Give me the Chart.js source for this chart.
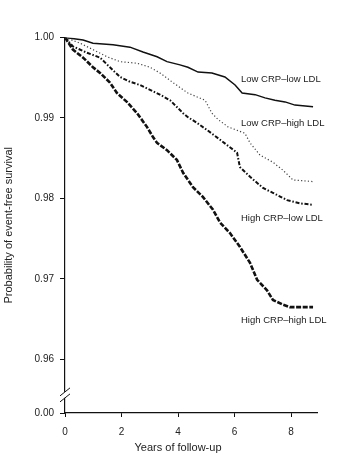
<!DOCTYPE html>
<html>
<head>
<meta charset="utf-8">
<script src="https://cdn.jsdelivr.net/npm/chart.js@4"></script>
<style>
  html, body { margin: 0; padding: 0; background: #fff; }
  #wrap { width: 349px; height: 464px; }
</style>
</head>
<body>
<div id="wrap"><canvas id="c" width="349" height="464"></canvas></div>
<script>
// ---- data ----
const seriesNames = ['Low CRP\u2013low LDL', 'Low CRP\u2013high LDL', 'High CRP\u2013low LDL', 'High CRP\u2013high LDL'];

const lowLowYears = [0, 0.64, 0.99, 1.70, 2.30, 2.76, 3.26, 3.61, 4.07, 4.35, 4.71, 5.20, 5.66, 6.02, 6.27, 6.73, 7.08, 7.43, 7.79, 8.14, 8.78];
const lowLowSurv  = [1.0, 0.9997, 0.9993, 0.9991, 0.9988, 0.9982, 0.9976, 0.9970, 0.9966, 0.9963, 0.9957, 0.9956, 0.9951, 0.9941, 0.9931, 0.9929, 0.9925, 0.9922, 0.9920, 0.9916, 0.9914];

const lowHighYears = [0, 0.53, 0.99, 1.49, 1.95, 2.55, 3.01, 3.36, 3.82, 4.35, 4.96, 5.20, 5.42, 5.77, 6.37, 6.55, 6.90, 7.36, 7.72, 8.07, 8.78];
const lowHighSurv  = [1.0, 0.9993, 0.9985, 0.9976, 0.9970, 0.9968, 0.9963, 0.9956, 0.9944, 0.9931, 0.9922, 0.9906, 0.9898, 0.9889, 0.9881, 0.9869, 0.9854, 0.9845, 0.9835, 0.9823, 0.9821];

const highLowYears = [0, 0.28, 0.78, 1.24, 1.59, 1.95, 2.30, 2.65, 3.01, 3.36, 3.72, 4.18, 4.35, 4.67, 5.03, 5.49, 6.09, 6.19, 6.55, 7.01, 7.36, 7.86, 8.32, 8.78];
const highLowSurv  = [1.0, 0.9989, 0.9981, 0.9975, 0.9963, 0.9951, 0.9945, 0.9941, 0.9935, 0.9929, 0.9922, 0.9906, 0.9901, 0.9894, 0.9885, 0.9873, 0.9857, 0.9839, 0.9827, 0.9813, 0.9807, 0.9798, 0.9794, 0.9792];

const highHighYears = [0, 0.28, 0.64, 0.99, 1.24, 1.59, 1.84, 2.19, 2.55, 2.90, 3.12, 3.26, 3.61, 3.96, 4.18, 4.53, 4.88, 5.24, 5.49, 5.84, 6.19, 6.55, 6.80, 7.15, 7.36, 7.72, 7.96, 8.78];
const highHighSurv  = [1.0, 0.9985, 0.9975, 0.9963, 0.9956, 0.9944, 0.9931, 0.9920, 0.9906, 0.9889, 0.9876, 0.9869, 0.9860, 0.9848, 0.9832, 0.9814, 0.9802, 0.9786, 0.9770, 0.9757, 0.9740, 0.9720, 0.9699, 0.9686, 0.9674, 0.9668, 0.9665, 0.9665];

const xTickValues = [0, 2, 4, 6, 8];
const yTickValues = [0.96, 0.97, 0.98, 0.99, 1.00];
const yBreakLabel = '0.00';
const xTitle = 'Years of follow-up';
const yTitle = 'Probability of event-free survival';

// ---- layout / style (not data) ----
const Y_MIN = 0.95335, Y_MAX = 1.0, X_MIN = 0, X_MAX = 8.92;
const BREAK_VALUE = 0.9556;
const labelX = 6.23;
const labelYs = [0.99485, 0.98938, 0.97758, 0.96491];
const TXT = '#222';
const FONT = '"Liberation Sans", Arial, Helvetica, sans-serif';

function pts(xs, ys) { return xs.map((x, i) => ({ x: x, y: ys[i] })); }

const styles = [
  { borderColor: '#111', borderWidth: 1.5, borderDash: [] },
  { borderColor: '#444', borderWidth: 1.2, borderDash: [1.2, 2.2] },
  { borderColor: '#111', borderWidth: 2.0, borderDash: [4, 1.8, 1.5, 1.8] },
  { borderColor: '#111', borderWidth: 2.6, borderDash: [5, 1.6] }
];
const seriesData = [
  pts(lowLowYears, lowLowSurv),
  pts(lowHighYears, lowHighSurv),
  pts(highLowYears, highLowSurv),
  pts(highHighYears, highHighSurv)
];

const decorPlugin = {
  id: 'decor',
  afterDraw(chart) {
    const ctx = chart.ctx;
    const xs = chart.scales.x, ys = chart.scales.y;
    ctx.save();
    ctx.fillStyle = TXT;
    ctx.font = '9.5px ' + FONT;
    ctx.textBaseline = 'middle';
    ctx.textAlign = 'left';
    seriesNames.forEach((n, i) => {
      ctx.fillText(n, xs.getPixelForValue(labelX), ys.getPixelForValue(labelYs[i]));
    });
    ctx.font = '11px ' + FONT;
    ctx.textAlign = 'center';
    ctx.fillText(xTitle, xs.getPixelForValue(4), 448);
    const ax = xs.getPixelForValue(0);
    const by = ys.getPixelForValue(BREAK_VALUE);
    ctx.fillStyle = '#fff';
    ctx.fillRect(ax - 1.5, by - 3, 3, 6);
    ctx.strokeStyle = '#111';
    ctx.lineWidth = 1;
    ctx.beginPath();
    ctx.moveTo(ax - 5, by + 1); ctx.lineTo(ax + 5, by - 7);
    ctx.moveTo(ax - 5, by + 7); ctx.lineTo(ax + 5, by - 1);
    ctx.stroke();
    ctx.restore();
  }
};

new Chart(document.getElementById('c'), {
  type: 'line',
  data: {
    datasets: seriesData.map((d, i) => Object.assign({
      label: seriesNames[i],
      data: d,
      pointRadius: 0,
      tension: 0,
      fill: false
    }, styles[i]))
  },
  options: {
    responsive: false,
    animation: false,
    devicePixelRatio: 1,
    layout: { padding: { top: 37.5, right: 32, bottom: 0, left: 0 } },
    plugins: { legend: { display: false }, tooltip: { enabled: false } },
    scales: {
      x: {
        type: 'linear', min: X_MIN, max: X_MAX,
        afterBuildTicks: s => { s.ticks = xTickValues.map(v => ({ value: v })); },
        afterFit: s => { s.height = 51; },
        grid: { display: true, drawOnChartArea: false, drawTicks: true, tickLength: 4, color: '#111', tickWidth: 1 },
        border: { display: true, color: '#111', width: 1.2 },
        ticks: { color: TXT, font: { family: FONT, size: 10 }, padding: 9, maxRotation: 0,
                 callback: v => String(v) }
      },
      y: {
        type: 'linear', min: Y_MIN, max: Y_MAX,
        afterBuildTicks: s => { s.ticks = [Y_MIN].concat(yTickValues).map(v => ({ value: v })); },
        afterFit: s => { s.width = 65; },
        grid: { display: true, drawOnChartArea: false, drawTicks: true, tickLength: 5, color: '#111', tickWidth: 1 },
        border: { display: true, color: '#111', width: 1.2 },
        ticks: { color: TXT, font: { family: FONT, size: 10 }, padding: 6,
                 callback: v => (v < 0.955 ? yBreakLabel : Number(v).toFixed(2)) },
        title: { display: true, text: yTitle, color: TXT, font: { family: FONT, size: 11 }, padding: { top: 2, bottom: 0 } }
      }
    }
  },
  plugins: [decorPlugin]
});
</script>
</body>
</html>
